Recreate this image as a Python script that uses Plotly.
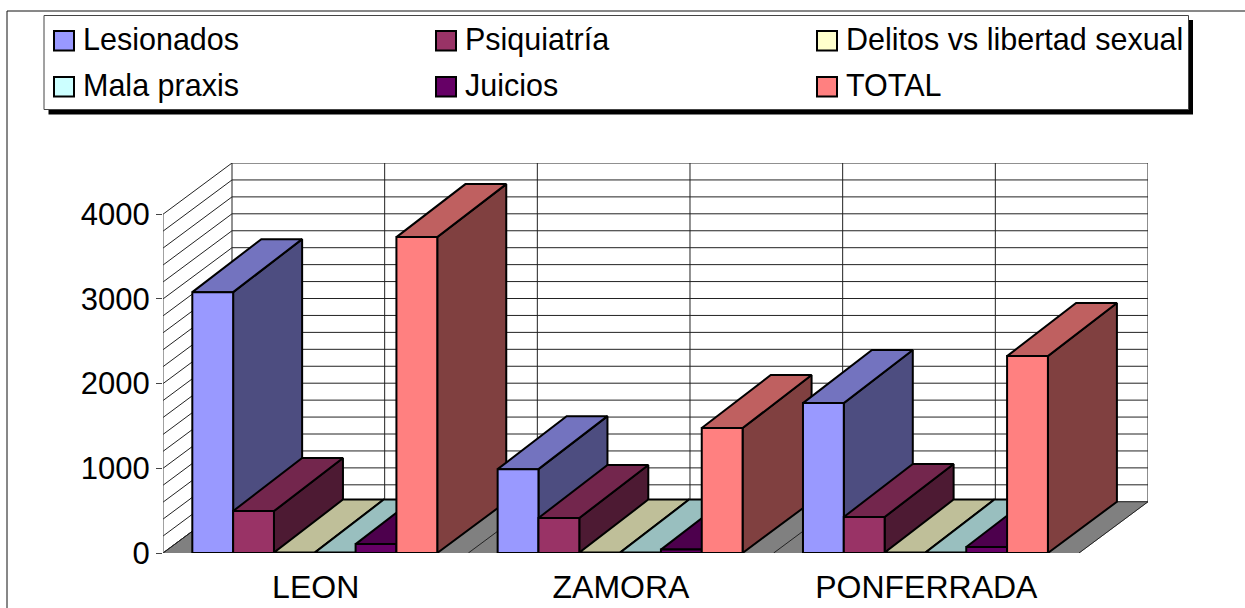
import plotly.graph_objects as go

categories = ["LEON", "ZAMORA", "PONFERRADA"]
series_names = ["Lesionados", "Psiquiatría", "Delitos vs libertad sexual", "Mala praxis", "Juicios", "TOTAL"]
lesionados = [3080, 990, 1770]
psiquiatria = [495, 413, 425]
delitos = [5, 5, 5]
mala_praxis = [5, 5, 5]
juicios = [105, 40, 70]
total = [3730, 1475, 2325]
y_ticks = [0, 1000, 2000, 3000, 4000]

series_values = [lesionados, psiquiatria, delitos, mala_praxis, juicios, total]
front_colors = ["#9999FF", "#993366", "#FFFFCC", "#CCFFFF", "#660066", "#FF8080"]
top_colors = ["#7373BF", "#73264D", "#BFBF99", "#99BFBF", "#4D004D", "#BF6060"]
side_colors = ["#4D4D80", "#4D1A33", "#808066", "#668080", "#330033", "#804040"]

W, H = 1245, 608
L, R, T, B = 163, 1148, 163, 553
X_UNIT = 305.33
DX = 69 / X_UNIT
DY = 605
BAR_DY = 626
X_MAX = (R - L) / X_UNIT
Y_MAX = 4000 + DY
GAP = 0.096
BW = 0.1337


def px(x):
    return (x - L) / (R - L)


def py(y):
    return (B - y) / (B - T)


fig = go.Figure()


def poly(xs, ys, fill, line="black", width=2):
    fig.add_trace(go.Scatter(
        x=xs + xs[:1], y=ys + ys[:1], mode="lines", fill="toself", fillcolor=fill,
        line=dict(color=line, width=width), hoverinfo="skip", showlegend=False, cliponaxis=False))


def lines(xs, ys, color, width=1):
    fig.add_trace(go.Scatter(
        x=xs, y=ys, mode="lines", line=dict(color=color, width=width),
        hoverinfo="skip", showlegend=False, cliponaxis=False))


# floor
n = len(categories)
poly([0, DX, n + DX, n], [0, DY, DY, 0], "#808080", "#808080", 1)

# walls: horizontal gridlines every 200
grid_xb, grid_yb, grid_xs, grid_ys = [], [], [], []
for v in range(0, 4001, 200):
    grid_xb += [DX, n + DX, None]
    grid_yb += [v + DY, v + DY, None]
    grid_xs += [0, DX, None]
    grid_ys += [v, v + DY, None]
lines(grid_xb, grid_yb, "#222222")
lines(grid_xs, grid_ys, "#222222")

# vertical gridlines on the back wall, floor lines
vx, vy, fx, fy = [], [], [], []
for k in range(0, 2 * n + 1):
    c = k / 2
    vx += [c + DX, c + DX, None]
    vy += [DY, 4000 + DY, None]
    fx += [c, c + DX, None]
    fy += [0, DY, None]
lines(vx, vy, "#222222")
lines(fx, fy, "#222222")
lines([0, 0], [0, 4000], "#444444")

# bars
for c in range(n):
    for s, vals in enumerate(series_values):
        v = vals[c]
        x0 = c + GAP + s * BW
        x1 = x0 + BW
        poly([x1, x1 + DX, x1 + DX, x1], [0, DY, v + BAR_DY, v], side_colors[s])
        poly([x0, x1, x1 + DX, x0 + DX], [v, v, v + BAR_DY, v + BAR_DY], top_colors[s])
        poly([x0, x1, x1, x0], [0, 0, v, v], front_colors[s])

FONT = "Liberation Sans, Arial, sans-serif"
shapes = []
annotations = []


def rect(x0, y0, x1, y1, fill, line, width, layer="above"):
    shapes.append(dict(type="rect", xref="paper", yref="paper", x0=px(x0), x1=px(x1), y0=py(y0), y1=py(y1),
                       fillcolor=fill, line=dict(color=line, width=width), layer=layer))


# outer frame (runs off the picture to the right and bottom)
rect(7, 11, 1260, 630, "rgba(0,0,0,0)", "#111111", 1, "below")
# legend box with shadow
rect(48.5, 20, 1193, 114.5, "black", "black", 0)
rect(44, 15.5, 1188.5, 109.5, "white", "#444444", 1)

col_sw = [54, 436, 817]
row_sw = [31, 77]
for i, name in enumerate(series_names):
    col = i % 3 if i < 3 else i - 3
    row = 0 if i < 3 else 1
    rect(col_sw[col], row_sw[row], col_sw[col] + 20, row_sw[row] + 19.5, front_colors[i], "black", 2)
    annotations.append(dict(
        xref="paper", yref="paper", x=px(col_sw[col] + 27.5), y=py(row_sw[row] + 8),
        xanchor="left", yanchor="middle", text=name, showarrow=False, borderpad=0,
        font=dict(family=FONT, size=30.5, color="black")))

fig.update_layout(
    width=W, height=H, autosize=False,
    margin=dict(l=L, r=W - R, t=T, b=H - B, pad=0, autoexpand=False),
    paper_bgcolor="white", plot_bgcolor="white",
    showlegend=False, hovermode=False,
    font=dict(family=FONT, size=30, color="black"),
    shapes=shapes, annotations=annotations,
    xaxis=dict(range=[0, X_MAX], showgrid=False, zeroline=False, showline=False, automargin=False,
               tickmode="array", tickvals=[c + 0.5 for c in range(n)], ticktext=categories,
               ticks="", ticklabelstandoff=12, tickfont=dict(family=FONT, size=32)),
    yaxis=dict(range=[0, Y_MAX], showgrid=False, zeroline=False, showline=False, automargin=False,
               tickmode="array", tickvals=y_ticks, ticks="outside", ticklen=6, tickwidth=1,
               tickcolor="#444444", tickfont=dict(family=FONT, size=31)),
)

fig.write_html("out.html", config=dict(displayModeBar=False),
               post_script="document.body.style.margin='0';document.body.style.overflow='hidden';")
